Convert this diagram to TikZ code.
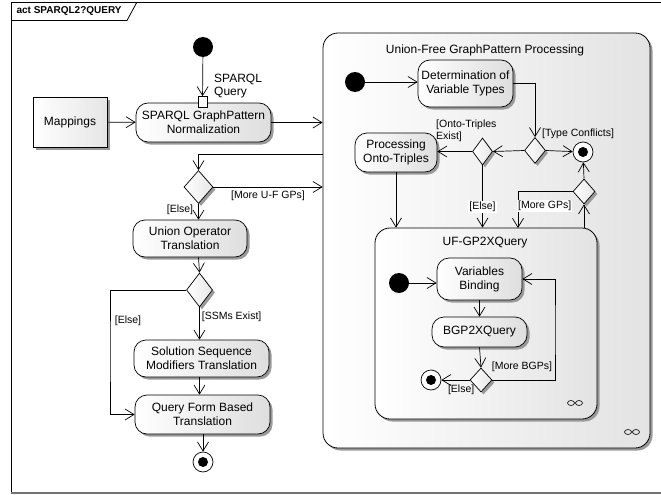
\documentclass[tikz,border=0pt]{standalone}
\usepackage{fontspec}
\setmainfont{Liberation Sans}
\usetikzlibrary{arrows.meta,shadows,shapes.geometric,positioning}

\tikzset{
  >={Straight Barb[length=9pt,width=11pt]},
  flow/.style={draw=black, line width=0.7pt},
  eashadow/.style={drop shadow={shadow xshift=2.5pt, shadow yshift=-2.5pt, fill=black!40, opacity=1}},
  action/.style={draw, line width=0.7pt, rounded corners=12pt, left color=white, right color=black!13,
    align=center, inner sep=1pt, eashadow, font=\fontsize{12}{14}\selectfont},
  objbox/.style={draw, line width=0.7pt, left color=white, right color=black!10, eashadow,
    font=\fontsize{12}{14}\selectfont},
  decision/.style={draw, line width=0.7pt, diamond, inner sep=0pt, left color=white, right color=black!10, eashadow},
  initnode/.style={circle, fill=black, minimum size=20pt, inner sep=0pt},
  finalnode/.style={circle, draw, line width=0.7pt, fill=white, minimum size=20pt, inner sep=0pt,
    path picture={\fill[black] (path picture bounding box.center) circle (5pt);}},
  region/.style={draw, line width=0.8pt, rounded corners=15pt, left color=white, right color=black!11, eashadow},
  guard/.style={font=\fontsize{10.5}{12}\selectfont, inner sep=1pt},
  rake/.style={line width=0.6pt},
}

\begin{document}
\begin{tikzpicture}[x=1pt, y=-1pt]
    \useasboundingbox (0,0) rectangle (661,495);
    % frame
    \draw[line width=0.8pt] (661,2) -- (11,2) -- (11,493);
    \draw[line width=1.4pt, draw=black!55] (11,493) -- (661,493);
    \draw[line width=0.8pt] (11,20.5) -- (127,20.5) -- (137,2);
    \node(hdr) [anchor=west, font=\fontsize{10}{12}\selectfont\bfseries] at (13,11) {act SPARQL2?QUERY};

    % regions
    \node(ufgp) [region, minimum width=327pt, minimum height=415pt] at (486.5,240.5) {};
    \node(ufgpt) [font=\fontsize{12}{14}\selectfont] at (485,50) {Union-Free GraphPattern Processing};
    \node(ufq) [region, minimum width=222pt, minimum height=191pt] at (486,323.5) {};
    \node(ufqt) [font=\fontsize{12}{14}\selectfont] at (485,243) {UF-GP2XQuery};

    % left column
    \node(init1) [initnode] at (203,47) {};
    \node(map) [objbox, minimum width=74pt, minimum height=50pt] at (70,122) {Mappings};
    \node(norm) [action, minimum width=135pt, minimum height=39pt] at (203.5,122.5) {SPARQL GraphPattern\\Normalization};
    \node(pin) [draw, line width=0.7pt, fill=white, minimum width=9pt, minimum height=11pt, inner sep=0pt] at (202.5,102) {};
    \node(pinl) [anchor=north west, align=left, inner sep=0pt, font=\fontsize{12}{13}\selectfont] at (214,74) {SPARQL\\Query};
    \node(d1) [decision, minimum width=29pt, minimum height=33pt] at (198.5,187) {};
    \node(union) [action, minimum width=114pt, minimum height=37pt] at (190,238.5) {Union Operator\\Translation};
    \node(d2) [decision, minimum width=26pt, minimum height=34pt] at (199.5,290) {};
    \node(ssm) [action, minimum width=135pt, minimum height=37pt] at (201.5,358.5) {Solution Sequence\\Modifiers Translation};
    \node(qf) [action, minimum width=135pt, minimum height=39pt] at (202.5,414.5) {Query Form Based\\Translation};
    \node(fin1) [finalnode] at (203,462) {};

    % union-free processing
    \node(init2) [initnode] at (355,82) {};
    \node(det) [action, minimum width=95pt, minimum height=47pt] at (465.5,83.5) {Determination of\\Variable Types};
    \node(dType) [decision, minimum width=21pt, minimum height=26pt] at (535,150.5) {};
    \node(fin2) [finalnode] at (583,152) {};
    \node(dOnto) [decision, minimum width=20pt, minimum height=27pt] at (482.5,151.5) {};
    \node(onto) [action, minimum width=82pt, minimum height=39pt] at (396,152.5) {Processing\\Onto-Triples};
    \node(dGP) [decision, minimum width=22pt, minimum height=25pt] at (584,191.5) {};

    % uf-gp2xquery
    \node(init3) [initnode] at (399,283) {};
    \node(varb) [action, minimum width=85pt, minimum height=42pt] at (479.5,279) {Variables\\Binding};
    \node(bgp) [action, minimum width=95pt, minimum height=30pt] at (479.5,332) {BGP2XQuery};
    \node(dBGP) [decision, minimum width=22pt, minimum height=24pt] at (481,380) {};
    \node(fin3) [finalnode] at (431,380) {};

    % bend points
    \coordinate(uback) at (323,154);
    \coordinate(elsec) at (110,350);
    \coordinate(gpin) at (518,228);
    \coordinate(loopc) at (555,330);

    %%%%% Edges left %%%%%
    \draw[->][flow](init1) to (pin);
    \draw[->][flow](map) to (norm);
    \draw[->][flow](norm.east) to (norm.east -| ufgp.west);
    \draw[->][flow](uback) -| (d1.north);
    \draw[->][flow](d1.east) to node [guard, below=3pt] {[More U-F GPs]} (d1.east -| ufgp.west);
    \draw[->][flow](d1.south) to node [guard, left=4pt, pos=0.4] {[Else]} (d1.south |- union.north);
    \draw[->][flow](d1.south |- union.south) to (d2.north);
    \draw[->][flow](d2.south) to node [guard, right=1pt, pos=0.3] {[SSMs Exist]} (d2.south |- ssm.north);
    \draw[->][flow](d2.west) -| (elsec) |- (qf.west);
    \node(elsel) [guard] at (128,321) {[Else]};
    \draw[->][flow](d2.south |- ssm.south) to (d2.south |- qf.north);
    \draw[->][flow](fin1 |- qf.south) to (fin1);

    %%%%% Edges union-free %%%%%
    \draw[->][flow](init2) to (init2 -| det.west);
    \draw[->][flow](det.east) -| (dType.north);
    \node(tcl) [guard, anchor=west] at (541,134) {[Type Conflicts]};
    \draw[->][flow](dType.east) to (fin2);
    \draw[->][flow](dType.west) to (dOnto.east);
    \draw[->][flow](dOnto.west) to (dOnto.west -| onto.east);
    \node(otl) [guard, anchor=north west, align=left] at (435,119) {[Onto-Triples\\Exist]};
    \draw[->][flow](onto.south) to (onto.south |- ufq.north);
    \draw[->][flow](dOnto.south) to node [guard, fill=white, pos=0.67] {[Else]} (dOnto.south |- ufq.north);
    \draw[->][flow](dGP.south |- ufq.north) to (dGP.south);
    \draw[->][flow](dGP.west) -| (gpin);
    \node(mgl) [guard, anchor=west, fill=white] at (517,206) {[More GPs]};
    \draw[->][flow](dGP.north) to (fin2);

    %%%%% Edges uf-gp2xquery %%%%%
    \draw[->][flow](init3) to (init3 -| varb.west);
    \draw[->][flow](varb) to (bgp);
    \draw[->][flow](bgp.south) to (dBGP.north);
    \draw[->][flow](dBGP.west) to node [guard, below=4pt, pos=0.3] {[Else]} (fin3);
    \draw[->][flow](dBGP.east) -| (loopc) |- (varb.east);
    \node(mbl) [guard] at (522,367) {[More BGPs]};

    % rakes
    \draw[rake] (571,403) ellipse (3.5pt and 2.5pt) (579,403) ellipse (3.5pt and 2.5pt) (574.5,403) -- (575.5,403);
    \draw[rake] (628,432) ellipse (3.5pt and 2.5pt) (636,432) ellipse (3.5pt and 2.5pt) (631.5,432) -- (632.5,432);
\end{tikzpicture}
\end{document}
